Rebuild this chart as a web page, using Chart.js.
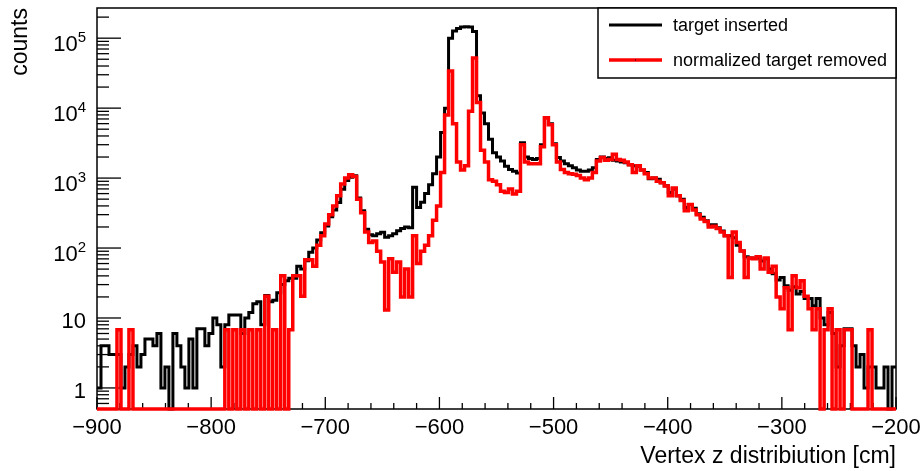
<!DOCTYPE html>
<html>
<head>
<meta charset="utf-8">
<script src="https://cdn.jsdelivr.net/npm/chart.js@4.4.0/dist/chart.umd.min.js"></script>
<style>
  html, body { margin: 0; padding: 0; background: #fff; }
</style>
</head>
<body>
<canvas id="chart1" width="923" height="471"></canvas>
<script>
// vertex z histograms, 200 bins of 3.5 cm between -900 and -200 cm
const X_MIN = -900;
const X_MAX = -200;
const Y_MIN = 0.5;
const Y_MAX = 2.7e5;

const inserted = [
  1, 4, 4, 3, 3, 3, 1, 2, 3, 4,
  2, 3, 5, 5, 4, 6, 1, 2, 0, 6,
  4, 2, 1, 5, 1, 7, 7, 4, 6, 10,
  8, 2, 8, 11, 11, 11, 6, 10, 12, 16,
  17, 8, 21, 17, 18, 23, 30, 34, 37, 37,
  55, 50, 66, 87, 100, 130, 166, 207, 280, 350,
  446, 690, 920, 1030, 1080, 520, 340, 185, 155, 150,
  160, 168, 143, 150, 160, 176, 190, 200, 195, 740,
  380, 450, 600, 800, 1150, 2000, 4500, 10000, 100000, 127000,
  138000, 145000, 146000, 144000, 125000, 15000, 8500, 6000, 3600, 2300,
  2000, 1750, 1480, 1330, 1250, 1180, 3200, 2000, 1900, 1850,
  1900, 3000, 7300, 6000, 3100, 1970, 1750, 1600, 1500, 1400,
  1300, 1250, 1250, 1300, 1400, 1850, 2000, 1900, 1950, 1800,
  1750, 1700, 1650, 1550, 1500, 1480, 1300, 1200, 980, 1000,
  960, 860, 780, 620, 700, 560, 500, 380, 420, 370,
  310, 275, 245, 215, 215, 195, 175, 150, 150, 140,
  110, 91, 75, 72, 72, 72, 65, 70, 50, 43,
  35, 38, 29, 25, 28, 22, 24, 19, 19, 15,
  19, 10, 8, 12, 6, 2, 4, 7, 7, 4,
  2, 3, 1, 2, 2, 1, 1, 2, 0, 2
];

const removed = [
  0, 0, 0, 0, 0, 6.8, 0, 0, 6.8, 0,
  0, 0, 0, 0, 0, 0, 0, 0, 0, 0,
  0, 0, 0, 0, 0, 0, 0, 0, 0, 0,
  0, 0, 6.8, 0, 6.8, 0, 6.8, 0, 6.8, 0,
  6.8, 0, 20.4, 0, 6.8, 0, 40, 0, 6.8, 40,
  40, 20.4, 68, 68, 55, 110, 150, 220, 300, 400,
  560, 820, 1000, 1120, 1050, 500, 320, 170, 120, 126,
  90, 63, 13, 70, 45, 63, 20, 50, 20, 150,
  60, 90, 110, 150, 250, 400, 1200, 8000, 34000, 6000,
  1700, 1300, 1500, 9000, 52000, 12000, 2500, 1700, 950, 900,
  800, 650, 620, 700, 590, 650, 3000, 1700, 1600, 1600,
  1600, 2800, 7300, 5800, 3000, 1700, 1330, 1200, 1150, 1130,
  1090, 1000, 950, 1000, 1200, 1750, 1970, 1800, 1850, 2200,
  1850, 1800, 1700, 1550, 1200, 1500, 1300, 1150, 1000, 1000,
  900, 860, 770, 560, 720, 560, 480, 340, 420, 350,
  300, 260, 240, 200, 205, 190, 170, 150, 38, 170,
  120, 91, 38, 72, 70, 75, 50, 72, 45, 55,
  20, 13.6, 27, 6.8, 40, 27, 34, 20.4, 13.6, 6.8,
  13.6, 0, 6.8, 13.6, 0, 6.8, 0, 6.8, 6.8, 0,
  0, 0, 0, 6.8, 0, 0, 0, 0, 0, 0
];

const xTicks = [-900, -800, -700, -600, -500, -400, -300, -200];
const xTickLabels = ['\u2212900', '\u2212800', '\u2212700', '\u2212600', '\u2212500', '\u2212400', '\u2212300', '\u2212200'];
const yTicks = [1, 10, 100, 1000, 10000, 100000];
const yTickBase = ['1', '10', '10', '10', '10', '10'];
const yTickExp = ['', '', '2', '3', '4', '5'];
const legendLabels = ['target inserted', 'normalized target removed'];
const xTitle = 'Vertex z distribiution [cm]';
const yTitle = 'counts';

const FONT = '"Liberation Sans", Arial, Helvetica, sans-serif';

// bin contents -> points at the low edge of each bin (stepped line),
// empty bins sit on the lower edge of the frame like ROOT does on log axes
function histPoints(counts) {
  const w = (X_MAX - X_MIN) / counts.length;
  const pts = counts.map((c, i) => ({ x: X_MIN + i * w, y: c > 0 ? c : Y_MIN }));
  pts.push({ x: X_MAX, y: pts[pts.length - 1].y });
  return pts;
}

function seg(ctx, x1, y1, x2, y2) {
  ctx.beginPath();
  ctx.moveTo(x1, y1);
  ctx.lineTo(x2, y2);
  ctx.stroke();
}

// frame, inner ticks, labels and titles in ROOT style
const rootAxes = {
  id: 'rootAxes',
  beforeDatasetsDraw(chart) {
    const { ctx, chartArea: a, scales: { x, y } } = chart;
    ctx.save();
    ctx.strokeStyle = '#000';
    ctx.lineWidth = 1.5;
    ctx.strokeRect(a.left, a.top, a.right - a.left, a.bottom - a.top);

    ctx.lineWidth = 1.3;
    for (let v = X_MIN; v <= X_MAX; v += 20) {
      const px = x.getPixelForValue(v);
      const len = (v % 100 === 0) ? 12 : 6;
      seg(ctx, px, a.bottom, px, a.bottom - len);
    }
    for (let e = -1; e <= 5; e++) {
      for (let m = 1; m <= 9; m++) {
        const v = m * Math.pow(10, e);
        if (v < Y_MIN || v > Y_MAX) continue;
        const py = y.getPixelForValue(v);
        seg(ctx, a.left, py, a.left + (m === 1 ? 24 : 12), py);
      }
    }

    ctx.fillStyle = '#000';
    ctx.textBaseline = 'alphabetic';
    ctx.font = '22px ' + FONT;
    ctx.textAlign = 'center';
    xTicks.forEach((v, i) => {
      ctx.fillText(xTickLabels[i], x.getPixelForValue(v), a.bottom + 25);
    });

    const right = a.left - 11;
    ctx.textAlign = 'left';
    yTicks.forEach((v, i) => {
      const py = y.getPixelForValue(v);
      ctx.font = '15px ' + FONT;
      const ew = yTickExp[i] ? ctx.measureText(yTickExp[i]).width : 0;
      ctx.font = '22px ' + FONT;
      const bw = ctx.measureText(yTickBase[i]).width;
      if (yTickExp[i]) {
        ctx.fillText(yTickBase[i], right - ew - bw, py + 12.5);
        ctx.font = '15px ' + FONT;
        ctx.fillText(yTickExp[i], right - ew, py + 3.5);
      } else {
        ctx.fillText(yTickBase[i], right - bw, py + 10.5);
      }
    });

    ctx.font = '23px ' + FONT;
    ctx.textAlign = 'right';
    ctx.fillText(xTitle, a.right, 463);
    ctx.save();
    ctx.translate(27, a.top);
    ctx.rotate(-Math.PI / 2);
    ctx.fillText(yTitle, 0, 0);
    ctx.restore();
    ctx.restore();
  },
  afterDraw(chart) {
    const { ctx, chartArea: a } = chart;
    const sets = chart.data.datasets;
    const left = a.right - 298, top = a.top, h = 70;
    ctx.save();
    ctx.fillStyle = '#fff';
    ctx.fillRect(left, top, a.right - left, h);
    ctx.strokeStyle = '#000';
    ctx.lineWidth = 1.5;
    ctx.strokeRect(left, top, a.right - left, h);
    ctx.font = '18px ' + FONT;
    ctx.textAlign = 'left';
    ctx.textBaseline = 'middle';
    [sets[0], sets[1]].forEach((ds, i) => {
      const ly = top + 17 + i * 35;
      ctx.strokeStyle = ds.borderColor;
      ctx.lineWidth = ds.borderWidth;
      seg(ctx, left + 11, ly, left + 64, ly);
      ctx.fillStyle = '#000';
      ctx.fillText(ds.label, left + 75, ly + 1);
    });
    ctx.fillStyle = '#000';
    ctx.fillRect(left + 37, top + 51.5, 1, 1);
    ctx.restore();
  }
};

const ctx = document.getElementById('chart1');

const data = {
  datasets: [{
    label: legendLabels[0],
    data: histPoints(inserted),
    borderColor: '#000000',
    borderWidth: 3,
    stepped: true,
    pointRadius: 0,
    fill: false,
    clip: false,
    order: 1
  },
  {
    label: legendLabels[1],
    data: histPoints(removed),
    borderColor: '#ff0000',
    borderWidth: 3.5,
    stepped: true,
    pointRadius: 0,
    fill: false,
    clip: false,
    order: 0
  }]
};

const config = {
  type: 'line',
  data: data,
  options: {
    responsive: false,
    devicePixelRatio: 1,
    animation: false,
    layout: { padding: { left: 97, right: 27, top: 8, bottom: 62 } },
    elements: { line: { borderJoinStyle: 'miter', borderCapStyle: 'butt', tension: 0 } },
    scales: {
      x: { type: 'linear', min: X_MIN, max: X_MAX, display: false },
      y: { type: 'logarithmic', min: Y_MIN, max: Y_MAX, display: false }
    },
    plugins: { legend: { display: false }, tooltip: { enabled: false } }
  },
  plugins: [rootAxes]
};

let chart = new Chart(ctx, config);
</script>
</body>
</html>
